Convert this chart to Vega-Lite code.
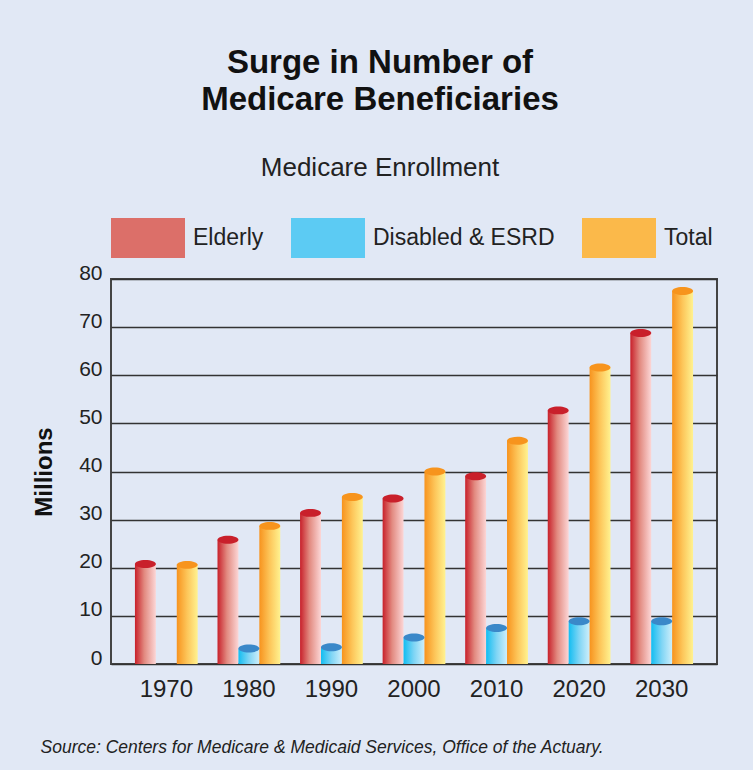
{
  "$schema": "https://vega.github.io/schema/vega-lite/v6.json",
  "width": 606,
  "height": 385,
  "autosize": "none",
  "padding": {"left": 111, "top": 279, "right": 36, "bottom": 106},
  "background": "#e1e8f5",
  "title": {
    "text": ["Surge in Number of", "Medicare Beneficiaries"],
    "subtitle": "Medicare Enrollment",
    "anchor": "middle",
    "frame": "group",
    "dx": -34,
    "offset": 20,
    "font": "Liberation Sans",
    "fontSize": 33,
    "fontWeight": "bold",
    "lineHeight": 37,
    "color": "#111111",
    "subtitleFont": "Liberation Sans",
    "subtitleFontSize": 26,
    "subtitleColor": "#222222",
    "subtitlePadding": 38
  },
  "data": {
    "values": [
      {"year": "1970", "series": "Elderly", "value": 20.8},
      {"year": "1970", "series": "Total", "value": 20.6},
      {"year": "1980", "series": "Elderly", "value": 25.8},
      {"year": "1980", "series": "Disabled & ESRD", "value": 3.2},
      {"year": "1980", "series": "Total", "value": 28.7},
      {"year": "1990", "series": "Elderly", "value": 31.4},
      {"year": "1990", "series": "Disabled & ESRD", "value": 3.5},
      {"year": "1990", "series": "Total", "value": 34.7},
      {"year": "2000", "series": "Elderly", "value": 34.4},
      {"year": "2000", "series": "Disabled & ESRD", "value": 5.5},
      {"year": "2000", "series": "Total", "value": 40.0},
      {"year": "2010", "series": "Elderly", "value": 39.0},
      {"year": "2010", "series": "Disabled & ESRD", "value": 7.5},
      {"year": "2010", "series": "Total", "value": 46.4},
      {"year": "2020", "series": "Elderly", "value": 52.7},
      {"year": "2020", "series": "Disabled & ESRD", "value": 8.9},
      {"year": "2020", "series": "Total", "value": 61.6},
      {"year": "2030", "series": "Elderly", "value": 68.8},
      {"year": "2030", "series": "Disabled & ESRD", "value": 8.9},
      {"year": "2030", "series": "Total", "value": 77.5}
    ]
  },
  "encoding": {
    "x": {
      "field": "year",
      "type": "nominal",
      "scale": {"paddingInner": 0.24, "paddingOuter": 0.29},
      "axis": {
        "labelAngle": 0,
        "labelFont": "Liberation Sans",
        "labelFontSize": 24,
        "labelColor": "#222222",
        "labelPadding": 13,
        "labelBaseline": "top",
        "ticks": false,
        "domain": false,
        "grid": false,
        "title": "Source: Centers for Medicare & Medicaid Services, Office of the Actuary.",
        "titleFont": "Liberation Sans",
        "titleFontSize": 17.5,
        "titleFontStyle": "italic",
        "titleFontWeight": "normal",
        "titleColor": "#222222",
        "titleAnchor": "start",
        "titleAlign": "left",
        "titleBaseline": "alphabetic",
        "titleX": -71,
        "titleY": 88
      }
    },
    "xOffset": {
      "field": "series",
      "type": "nominal",
      "sort": ["Elderly", "Disabled & ESRD", "Total"],
      "scale": {"domain": ["Elderly", "Disabled & ESRD", "Total"], "paddingInner": 0, "paddingOuter": 0}
    },
    "y": {
      "field": "value",
      "type": "quantitative",
      "scale": {"domain": [0, 80], "nice": false},
      "axis": {
        "values": [0, 10, 20, 30, 40, 50, 60, 70, 80],
        "labelFont": "Liberation Sans",
        "labelFontSize": 21,
        "labelColor": "#222222",
        "labelPadding": 9,
        "labelBaseline": "alphabetic",
        "ticks": false,
        "domain": false,
        "grid": true,
        "gridColor": "#333333",
        "gridWidth": 1.5,
        "title": "Millions",
        "titleFont": "Liberation Sans",
        "titleFontSize": 24,
        "titleFontWeight": "bold",
        "titleColor": "#111111",
        "titlePadding": 22
      }
    }
  },
  "layer": [
    {
      "mark": {"type": "bar", "opacity": 0, "strokeWidth": 0},
      "encoding": {
        "color": {
          "field": "series",
          "type": "nominal",
          "scale": {"domain": ["Elderly", "Disabled & ESRD", "Total"], "range": ["#dc6f69", "#5ccbf3", "#fbb94a"]},
          "legend": {
            "title": null,
            "orient": "top",
            "direction": "horizontal",
            "offset": 21,
            "padding": 0,
            "symbolType": "M-1,-0.54L1,-0.54L1,0.54L-1,0.54Z",
            "symbolSize": 5476,
            "symbolStrokeWidth": 0,
            "symbolOpacity": 1,
            "labelFont": "Liberation Sans",
            "labelFontSize": 23,
            "labelColor": "#222222",
            "labelOffset": 8,
            "columnPadding": 27,
            "labelLimit": 300
          }
        }
      }
    },
    {
      "mark": {"type": "bar", "strokeWidth": 0},
      "encoding": {
        "fill": {
          "condition": [
            {"test": "datum.series === 'Elderly'", "value": {"gradient": "linear", "x1": 0, "y1": 0, "x2": 1, "y2": 0, "stops": [{"offset": 0, "color": "#c8202a"}, {"offset": 0.45, "color": "#e28a80"}, {"offset": 1, "color": "#fcd6d6"}]}},
            {"test": "datum.series === 'Total'", "value": {"gradient": "linear", "x1": 0, "y1": 0, "x2": 1, "y2": 0, "stops": [{"offset": 0, "color": "#f7931e"}, {"offset": 0.5, "color": "#fdc65a"}, {"offset": 1, "color": "#fff290"}]}}
          ],
          "value": {"gradient": "linear", "x1": 0, "y1": 0, "x2": 1, "y2": 0, "stops": [{"offset": 0, "color": "#12bdf1"}, {"offset": 0.5, "color": "#7fd5f5"}, {"offset": 1, "color": "#cdeefb"}]}
        }
      }
    },
    {
      "mark": {"type": "point", "shape": "M-1,0C-1,-0.21,-0.5523,-0.38,0,-0.38C0.5523,-0.38,1,-0.21,1,0C1,0.21,0.5523,0.38,0,0.38C-0.5523,0.38,-1,0.21,-1,0Z", "size": 440, "filled": true, "opacity": 1, "strokeWidth": 0},
      "encoding": {
        "fill": {
          "field": "series",
          "type": "nominal",
          "scale": {"domain": ["Elderly", "Disabled & ESRD", "Total"], "range": ["#c9202b", "#3a88c9", "#f7941d"]},
          "legend": null
        }
      }
    }
  ],
  "config": {
    "view": {"stroke": "#444444", "strokeWidth": 2},
    "font": "Liberation Sans"
  }
}
